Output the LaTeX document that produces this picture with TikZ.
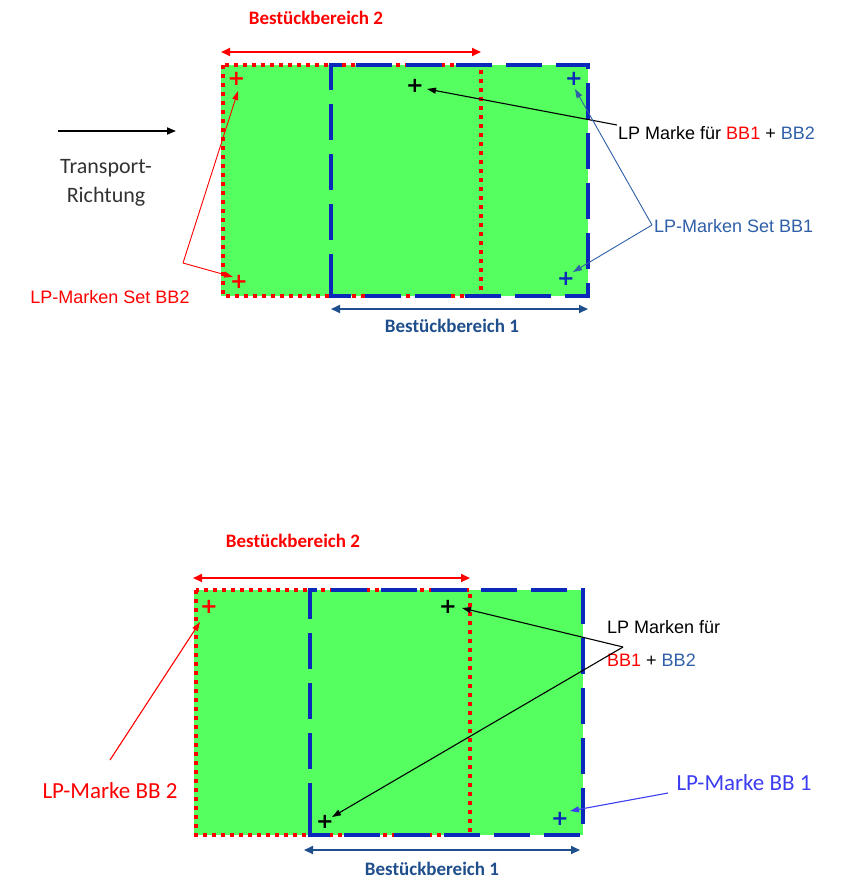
\documentclass[tikz,border=0pt]{standalone}
\usepackage{fontspec}
\setmainfont{Liberation Sans}
\newfontfamily\headfont{Carlito}
\newfontfamily\plusfont{DejaVu Sans}
\usetikzlibrary{arrows.meta}
\definecolor{pcbgreen}{RGB}{85,255,95}
\definecolor{dashblue}{RGB}{10,40,185}
\definecolor{dimblue}{RGB}{31,78,140}
\definecolor{setblue}{RGB}{46,95,168}
\definecolor{markblue}{RGB}{60,60,240}
\definecolor{dimred}{RGB}{255,0,0}
\definecolor{txtgray}{RGB}{50,50,50}
\tikzset{
  reddot/.style={draw=dimred,line width=4pt,dash pattern=on 4pt off 5pt},
  bluedash/.style={draw=dashblue,line width=4pt,dash pattern=on 36pt off 14pt},
  dimarrow/.style={line width=2pt,{Triangle[length=9pt,width=8pt]}-{Triangle[length=9pt,width=8pt]}},
  ptr/.style={line width=1.1pt,-{Triangle[length=9pt,width=6pt]}},
  pmark/.style={font=\plusfont\bfseries\fontsize{21}{21}\selectfont,inner sep=0pt},
  headlbl/.style={font=\headfont\bfseries\fontsize{19}{21}\selectfont,inner sep=0pt},
  lbl/.style={font=\fontsize{18}{21}\selectfont,inner sep=0pt},
  lgtlbl/.style={font=\headfont\fontsize{23}{25}\selectfont,inner sep=0pt},
}
\begin{document}
\begin{tikzpicture}[x=1pt,y=-1pt]
\useasboundingbox (0,0) rectangle (850,895);
% ---------- top diagram ----------
\fill[pcbgreen] (221,65) rectangle (588,296);
\draw[reddot] (223,65) rectangle (481,296);
\draw[bluedash] (331,280) -- (331,296) -- (588,296) -- (588,65) -- (331,65) -- cycle;
\coordinate (r2a) at (221,52); \coordinate (r2b) at (481,52);
\draw[dimarrow,dimred] (r2a) -- (r2b);
\node[headlbl,text=dimred] (bb2t) at (316,18) {Bestückbereich 2};
\coordinate (b1a) at (331,309); \coordinate (b1b) at (588,309);
\draw[dimarrow,dimblue] (b1a) -- (b1b);
\node[headlbl,text=dimblue] (bb1t) at (452,326) {Bestückbereich 1};
\coordinate (tra) at (58,131); \coordinate (trb) at (176,131);
\draw[line width=1.8pt,-{Triangle[length=9pt,width=7pt]}] (tra) -- (trb);
\node[font=\headfont\fontsize{22}{29}\selectfont,text=txtgray,align=center,inner sep=0pt] (trans) at (106,183) {Transport-\\Richtung};
\node[pmark,text=dimred] (m1) at (236.5,79) {+};
\node[pmark,text=dimred] (m2) at (239,282) {+};
\node[pmark,text=black] (m3) at (415,86) {+};
\node[pmark,text=dashblue] (m4) at (574,79) {+};
\node[pmark,text=dashblue] (m5) at (566,279) {+};
\node[lbl,anchor=west] (lpt) at (618,133) {LP Marke für \textcolor{dimred}{BB1} + \textcolor{setblue}{BB2}};
\coordinate (lpta) at (617,125); \coordinate (lptt) at (427,89);
\draw[ptr,black] (lpta) -- (lptt);
\node[lbl,anchor=west,text=setblue] (set1) at (654,226) {LP-Marken Set BB1};
\coordinate (s1a) at (652,225); \coordinate (s1t1) at (575,89); \coordinate (s1t2) at (573,272);
\draw[ptr,setblue,line width=0.9pt] (s1a) -- (s1t1);
\draw[ptr,setblue,line width=0.9pt] (s1a) -- (s1t2);
\node[lbl,text=dimred] (set2) at (110,297) {LP-Marken Set BB2};
\coordinate (s2a) at (183,263); \coordinate (s2t1) at (238,91); \coordinate (s2t2) at (233,277);
\draw[ptr,dimred,line width=0.9pt] (s2a) -- (s2t1);
\draw[ptr,dimred,line width=0.9pt] (s2a) -- (s2t2);
% ---------- bottom diagram ----------
\fill[pcbgreen] (194,590) rectangle (583,835);
\draw[reddot] (196,590) rectangle (470,835);
\draw[bluedash] (310,819) -- (310,835) -- (583,835) -- (583,590) -- (310,590) -- cycle;
\coordinate (r2c) at (193,578); \coordinate (r2d) at (470,578);
\draw[dimarrow,dimred] (r2c) -- (r2d);
\node[headlbl,text=dimred] (bb2b) at (293,541) {Bestückbereich 2};
\coordinate (b1c) at (304,850); \coordinate (b1d) at (580,850);
\draw[dimarrow,dimblue] (b1c) -- (b1d);
\node[headlbl,text=dimblue] (bb1b) at (432,869) {Bestückbereich 1};
\node[pmark,text=dimred] (n1) at (209,607) {+};
\node[pmark,text=black] (n2) at (448,607) {+};
\node[pmark,text=black] (n3) at (325,822) {+};
\node[pmark,text=dashblue] (n4) at (560,819) {+};
\node[lbl,anchor=west] (lpb1) at (607,627) {LP Marken für};
\node[lbl,anchor=west] (lpb2) at (607,660) {\textcolor{dimred}{BB1} + \textcolor{setblue}{BB2}};
\coordinate (lpba) at (623,647); \coordinate (lpbt1) at (462,608); \coordinate (lpbt2) at (332,817);
\draw[ptr,black] (lpba) -- (lpbt1);
\draw[ptr,black] (lpba) -- (lpbt2);
\node[lgtlbl,text=dimred] (mk2) at (110,791) {LP-Marke BB 2};
\coordinate (mk2a) at (110,760); \coordinate (mk2t) at (200,622);
\draw[ptr,dimred] (mk2a) -- (mk2t);
\node[lgtlbl,text=markblue] (mk1) at (744,783) {LP-Marke BB 1};
\coordinate (mk1a) at (668,793); \coordinate (mk1t) at (570,811);
\draw[ptr,markblue] (mk1a) -- (mk1t);
\end{tikzpicture}
\end{document}
